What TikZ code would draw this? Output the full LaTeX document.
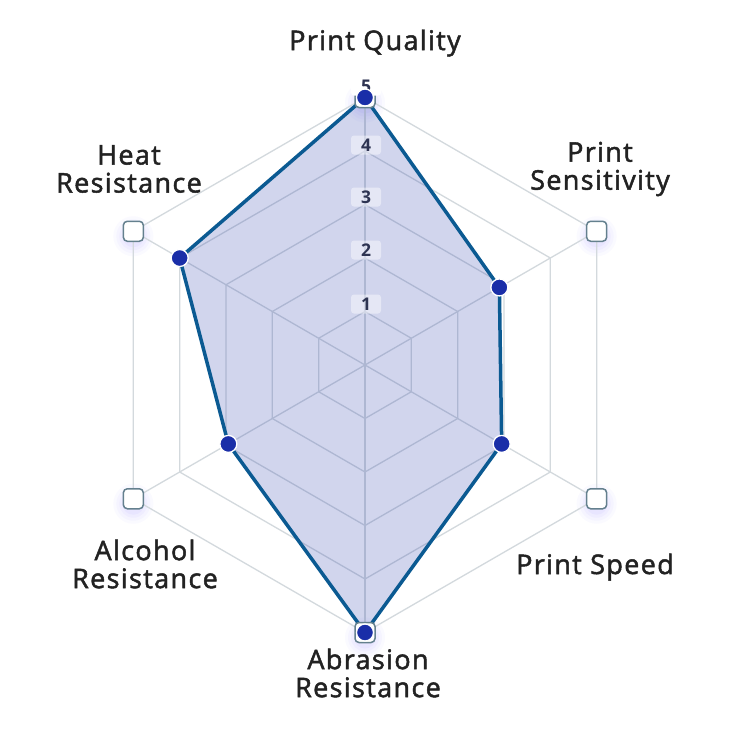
\documentclass[tikz,border=0pt]{standalone}
\usepackage{fontspec}
\setmainfont{Open Sans}
\newfontfamily\labfont[LetterSpace=5,FakeBold=1.8]{Open Sans}
\usetikzlibrary{calc}
\definecolor{gridc}{HTML}{D3D9DD}
\definecolor{fillc}{HTML}{1A2FA8}
\definecolor{linec}{HTML}{0B5A92}
\definecolor{ptc}{HTML}{1A2EA8}
\definecolor{sqc}{HTML}{64808E}
\definecolor{txtc}{HTML}{222222}
\definecolor{numc}{HTML}{2E3452}
\definecolor{glowc}{HTML}{8C7CFF}
\tikzset{
  gridline/.style={draw=gridc, line width=1.3pt},
  sqmark/.style={draw=sqc, fill=white, rounded corners=4pt, minimum size=20pt, inner sep=0pt, line width=1.5pt},
  ptmark/.style={circle, fill=ptc, draw=white, line width=1.3pt, minimum size=17pt, inner sep=0pt},
  axlabel/.style={align=center, text=txtc, font=\labfont\fontsize{27}{28}\selectfont, inner sep=0pt},
  lvbox/.style={fill=white, fill opacity=0.45, text opacity=1, rounded corners=3pt, minimum width=30pt, minimum height=19pt, inner sep=0pt, text=numc, font=\bfseries\fontsize{17.5}{17}\selectfont},
}
\begin{document}
\begin{tikzpicture}[x=1pt,y=-1pt]
\useasboundingbox (0,0) rectangle (729,729);
\fill[white] (0,0) rectangle (729,729);
\coordinate (C) at (365,365);
\foreach \k in {0,...,5}{
  \foreach \l in {1,...,5}{
    \coordinate (g\l-\k) at ({365+53.5*\l*sin(60*\k)},{365-53.5*\l*cos(60*\k)});
  }
}
% glow behind the outer markers
\foreach \k in {0,...,5}{
  \foreach \r/\o in {20/0.035,17/0.045,14/0.055,11/0.065}{
    \fill[glowc, opacity=\o] ($(g5-\k)+(0,5)$) circle (\r);
  }
}
% grid
\foreach \l in {1,...,5}{
  \draw[gridline] (g\l-0) -- (g\l-1) -- (g\l-2) -- (g\l-3) -- (g\l-4) -- (g\l-5) -- cycle;
}
\foreach \k in {0,...,5}{
  \draw[gridline] (C) -- (g5-\k);
}
% data points
\coordinate (d0) at (g5-0);
\coordinate (d1) at ({365+53.5*2.9*sin(60)},{365-53.5*2.9*cos(60)});
\coordinate (d2) at ({365+53.5*2.95*sin(120)},{365-53.5*2.95*cos(120)});
\coordinate (d3) at (g5-3);
\coordinate (d4) at ({365+53.5*2.95*sin(240)},{365-53.5*2.95*cos(240)});
\coordinate (d5) at (g4-5);
\fill[fillc, opacity=0.2] (d0) -- (d1) -- (d2) -- (d3) -- (d4) -- (d5) -- cycle;
\draw[linec, line width=3.5pt, line join=round] (d0) -- (d1) -- (d2) -- (d3) -- (d4) -- (d5) -- cycle;
% outer markers
\foreach \k in {0,...,5}{
  \node[sqmark] (s\k) at (g5-\k) {};
}
% level labels
\node[lvbox] (lv1) at (366,304) {1};
\node[lvbox] (lv2) at (366,250) {2};
\node[lvbox] (lv3) at (366,197) {3};
\node[lvbox] (lv4) at (366,145) {4};
\node[lvbox, fill opacity=1] (lv5) at (366,86) {5};
% points
\foreach \k in {0,...,5}{
  \node[ptmark] (p\k) at (d\k) {};
}
% axis labels
\node[axlabel] (t0) at (375,43) {Print Quality};
\node[axlabel] (t1) at (600,169) {Print\\Sensitivity};
\node[axlabel] (t2) at (595,567) {Print Speed};
\node[axlabel] (t3) at (368,673) {Abrasion\\Resistance};
\node[axlabel] (t4) at (145,564) {Alcohol\\Resistance};
\node[axlabel] (t5) at (129,169) {Heat\\Resistance};
\end{tikzpicture}
\end{document}
